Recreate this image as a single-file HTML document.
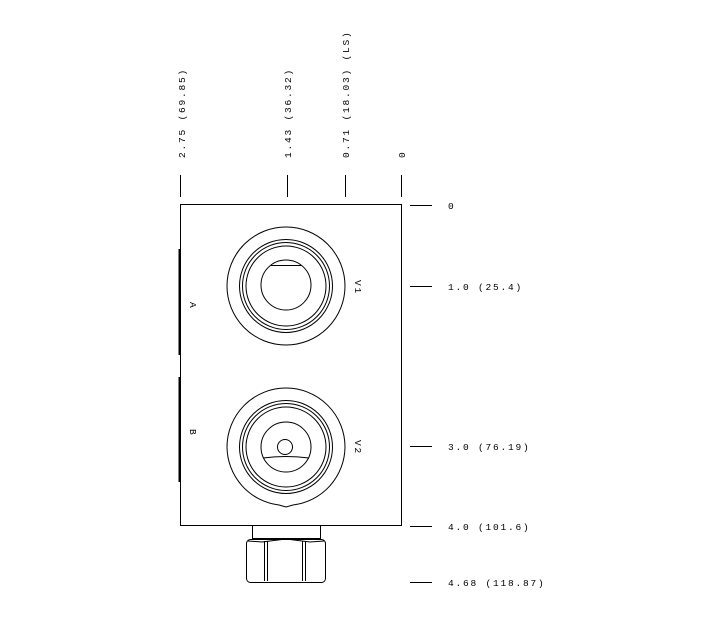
<!DOCTYPE html>
<html><head><meta charset="utf-8"><style>body{margin:0;background:#fff}svg{display:block}</style></head><body>
<svg width="720" height="620" viewBox="0 0 720 620" xmlns="http://www.w3.org/2000/svg" font-family="Liberation Mono, monospace" font-size="9.5" fill="#000">
<g stroke="#000" fill="none" stroke-width="1">
<!-- top ticks -->
<line x1="180.5" y1="175" x2="180.5" y2="197"/>
<line x1="287.5" y1="175" x2="287.5" y2="197"/>
<line x1="345.5" y1="175" x2="345.5" y2="197"/>
<line x1="401.5" y1="175" x2="401.5" y2="197"/>
<!-- right ticks -->
<line x1="410" y1="205.5" x2="432" y2="205.5"/>
<line x1="410" y1="286.5" x2="432" y2="286.5"/>
<line x1="410" y1="446.5" x2="432" y2="446.5"/>
<line x1="410" y1="526.5" x2="432" y2="526.5"/>
<line x1="410" y1="582.5" x2="432" y2="582.5"/>
<!-- body -->
<rect x="180.5" y="204.5" width="221" height="321"/>
<line x1="179.5" y1="249" x2="179.5" y2="355" stroke-width="2"/>
<line x1="179.5" y1="377" x2="179.5" y2="482" stroke-width="2"/>
<!-- V1 -->
<circle cx="286" cy="286" r="59"/>
<circle cx="286" cy="286" r="46.5"/>
<circle cx="286" cy="286" r="43.5"/>
<circle cx="286" cy="286" r="40"/>
<circle cx="286" cy="285" r="25"/>
<line x1="271" y1="265.5" x2="301" y2="265.5"/>
<!-- V2 -->
<path d="M227 447 A59 59 0 0 1 345 447 A59 59 0 0 1 293 505 L286 507 L279 505 A59 59 0 0 1 227 447 Z"/>
<circle cx="286" cy="447" r="46.5"/>
<circle cx="286" cy="447" r="43.5"/>
<circle cx="286" cy="447" r="40"/>
<circle cx="286" cy="447" r="25"/>
<circle cx="285" cy="447" r="7.5"/>
<path d="M263 458 Q286 455 309 458"/>
<!-- fitting -->
<rect x="252.5" y="525.5" width="68" height="13"/>
<rect x="246.5" y="539.5" width="79" height="43" rx="4"/>
<line x1="264.5" y1="541" x2="264.5" y2="581"/>
<line x1="267.5" y1="541" x2="267.5" y2="581"/>
<line x1="302.5" y1="541" x2="302.5" y2="581"/>
<line x1="305.5" y1="541" x2="305.5" y2="581"/>
<path d="M248 541 L262 542 L286 539 L310 542 L324 541"/>
</g>
<g letter-spacing="1.8">
<text transform="translate(185,158) rotate(-90)">2.75 (69.85)</text>
<text transform="translate(291,158) rotate(-90)">1.43 (36.32)</text>
<text transform="translate(349,158) rotate(-90)">0.71 (18.03) (LS)</text>
<text transform="translate(405,158) rotate(-90)">0</text>
<text x="448" y="209">0</text>
<text x="448" y="290">1.0 (25.4)</text>
<text x="448" y="450">3.0 (76.19)</text>
<text x="448" y="530">4.0 (101.6)</text>
<text x="448" y="586">4.68 (118.87)</text>
<text transform="translate(190,302) rotate(90)">A</text>
<text transform="translate(190,429) rotate(90)">B</text>
<text transform="translate(355,280) rotate(90)">V1</text>
<text transform="translate(355,440) rotate(90)">V2</text>
</g>
</svg>
</body></html>
